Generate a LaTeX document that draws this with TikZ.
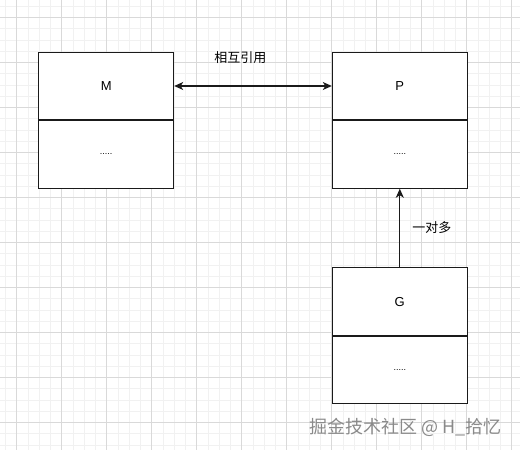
\documentclass[tikz,border=0pt]{standalone}
\usepackage{fontspec}
\setmainfont{Liberation Sans}
\newfontfamily\cjk{Noto Sans CJK SC}
\usepackage{tikz}
\usetikzlibrary{arrows.meta,positioning}
\definecolor{GridMinor}{HTML}{F1F1F1}
\definecolor{GridMajor}{HTML}{D9D9D9}
\definecolor{BoxLine}{HTML}{1A1A1A}
\definecolor{MarkGray}{HTML}{8A8A8A}
\tikzset{
  >={Stealth[length=9pt, width=8pt, inset=2.5pt]},
  minorline/.style={draw=GridMinor, line width=0.6pt},
  majorline/.style={draw=GridMajor, line width=0.8pt},
  half/.style={draw=BoxLine, fill=white, line width=1pt, minimum width=135pt,
               minimum height=67.5pt, inner sep=0pt, font=\fontsize{13}{15}\selectfont},
  dots/.style={half, font=\fontsize{9}{11}\selectfont},
  link/.style={<->, line width=1.1pt, draw=BoxLine},
  owns/.style={->, line width=1.1pt, draw=BoxLine},
  lbl/.style={font=\cjk\fontsize{13}{15}\selectfont, inner sep=1pt},
  watermark/.style={font=\cjk\fontsize{18}{20}\selectfont, text=MarkGray, inner sep=0pt},
}
\begin{document}
\begin{tikzpicture}[x=1pt,y=-1pt]
  \useasboundingbox (0,0) rectangle (520,450);
  \fill[white] (0,0) rectangle (520,450);
  % grid
  \foreach \i in {0,...,46} {
    \draw[minorline] (5.45+11.25*\i,0) -- (5.45+11.25*\i,450);
  }
  \foreach \i in {0,...,40} {
    \draw[minorline] (0,6.05+11.25*\i) -- (520,6.05+11.25*\i);
  }
  \foreach \i in {0,...,11} {
    \draw[majorline] (16.7+45*\i,0) -- (16.7+45*\i,450);
  }
  \foreach \i in {0,...,9} {
    \draw[majorline] (0,17.3+45*\i) -- (520,17.3+45*\i);
  }

  % boxes
  \node[half] (M) at (106.2,86) {M};
  \node[dots, below=0pt of M] (Mbody) {.....};
  \node[half, right=157.6pt of M] (P) {P};
  \node[dots, below=0pt of P] (Pbody) {.....};
  \node[half, below=78.6pt of Pbody] (G) {G};
  \node[dots, below=0pt of G] (Gbody) {.....};

  % connectors
  \draw[link] (M) -- node[lbl, pos=0.42, yshift=28pt] (refLbl) {相互引用} (P);
  \draw[owns] (G) -- node[lbl, right=11pt] (oneMany) {一对多} (Pbody);

  \node[watermark] (wmark) at (405.5,427) {掘金技术社区 @ H\_拾忆};
\end{tikzpicture}
\end{document}
